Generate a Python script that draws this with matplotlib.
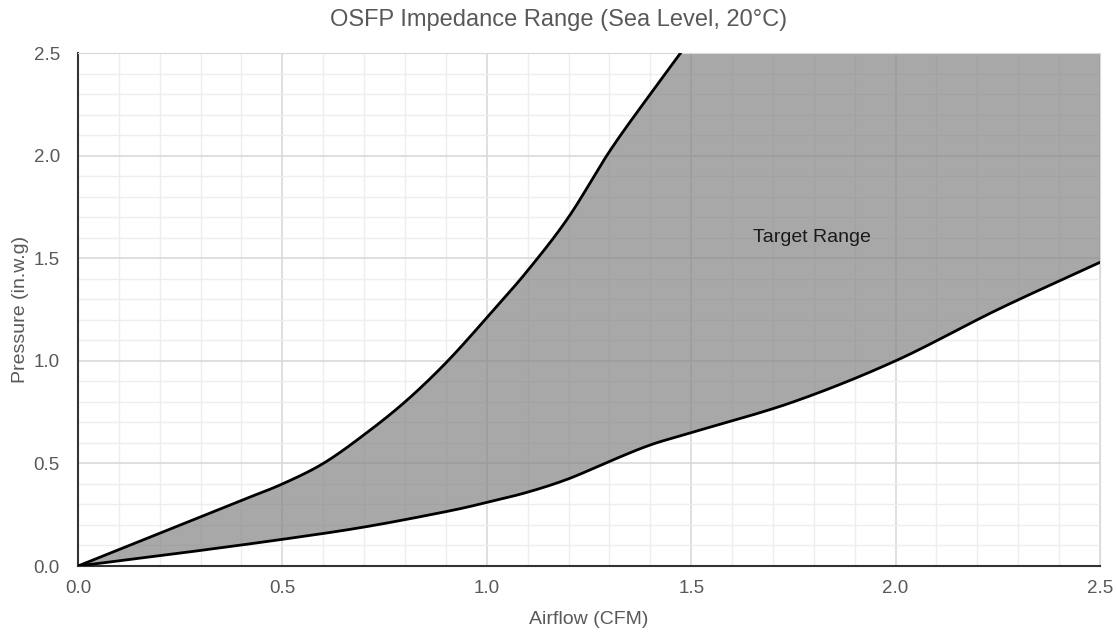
import numpy as np
import matplotlib.pyplot as plt
from matplotlib.ticker import MultipleLocator

# Curvas (CFM, in.w.g)
upper_x = [0.0, 0.1, 0.2, 0.3, 0.4, 0.5, 0.6, 0.7, 0.8, 0.9, 1.0, 1.1, 1.2, 1.3, 1.4, 1.5, 1.6]
upper_y = [0.0, 0.08, 0.16, 0.24, 0.32, 0.40, 0.50, 0.64, 0.80, 0.99, 1.21, 1.44, 1.70, 2.02, 2.30, 2.57, 2.84]

lower_x = [0.0, 0.25, 0.5, 0.7, 0.9, 1.0, 1.1, 1.2, 1.3, 1.4, 1.5, 1.75, 2.0, 2.25, 2.5]
lower_y = [0.0, 0.063, 0.13, 0.19, 0.265, 0.31, 0.36, 0.425, 0.51, 0.59, 0.65, 0.80, 1.00, 1.25, 1.48]

x_ticks = [0.0, 0.5, 1.0, 1.5, 2.0, 2.5]
y_ticks = [0.0, 0.5, 1.0, 1.5, 2.0, 2.5]


def suavizar(xs, ys, n=20):
    # Catmull-Rom para que las lineas se vean curvas
    p = np.column_stack([xs, ys]).astype(float)
    p = np.vstack([2 * p[0] - p[1], p, 2 * p[-1] - p[-2]])
    out = []
    t = np.linspace(0, 1, n, endpoint=False)[:, None]
    for i in range(1, len(p) - 2):
        p0, p1, p2, p3 = p[i - 1], p[i], p[i + 1], p[i + 2]
        seg = 0.5 * ((2 * p1) + (-p0 + p2) * t + (2 * p0 - 5 * p1 + 4 * p2 - p3) * t ** 2
                     + (-p0 + 3 * p1 - 3 * p2 + p3) * t ** 3)
        out.append(seg)
    out.append(p[-2][None, :])
    out = np.vstack(out)
    return out[:, 0], out[:, 1]


ux, uy = suavizar(upper_x, upper_y)
lx, ly = suavizar(lower_x, lower_y)

plt.rcParams['font.family'] = ['Liberation Sans', 'DejaVu Sans']
fig = plt.figure(figsize=(11.17, 6.32), dpi=100)
ax = fig.add_axes([0.0698, 0.1044, 0.9150, 0.8117])

ax.set_xlim(0, 2.5)
ax.set_ylim(0, 2.5)
ax.xaxis.set_major_locator(MultipleLocator(0.5))
ax.yaxis.set_major_locator(MultipleLocator(0.5))
ax.xaxis.set_minor_locator(MultipleLocator(0.1))
ax.yaxis.set_minor_locator(MultipleLocator(0.1))
ax.grid(which='major', color='#d9d9d9', linewidth=1.2)
ax.grid(which='minor', color='#eeeeee', linewidth=1.0)
ax.set_axisbelow(True)

# Zona objetivo: curva superior, esquina de arriba y curva inferior al reves
poly_x = np.concatenate([ux, [lx[-1]], lx[::-1]])
poly_y = np.concatenate([uy, [uy[-1]], ly[::-1]])
ax.fill(poly_x, poly_y, color='#7f7f7f', alpha=0.68, linewidth=0, zorder=2)

ax.plot(ux, uy, color='black', linewidth=2, zorder=3)
ax.plot(lx, ly, color='black', linewidth=2, zorder=3)

ax.text(1.795, 1.60, 'Target Range', fontsize=14, color='#1a1a1a', ha='center', va='center', zorder=4)

ax.set_xticks(x_ticks)
ax.set_yticks(y_ticks)
ax.set_xticklabels([f'{v:.1f}' for v in x_ticks])
ax.set_yticklabels([f'{v:.1f}' for v in y_ticks])
ax.tick_params(which='both', length=0, labelsize=13.5, labelcolor='#595959')
ax.tick_params(axis='x', pad=10)
ax.tick_params(axis='y', pad=13)

for s in ['top', 'right']:
    ax.spines[s].set_color('#d9d9d9')
for s in ['left', 'bottom']:
    ax.spines[s].set_color('#333333')
    ax.spines[s].set_linewidth(1.5)

ax.set_xlabel('Airflow (CFM)', fontsize=14, color='#595959', labelpad=10)
ax.set_ylabel('Pressure (in.w.g)', fontsize=14, color='#595959', labelpad=3)
fig.suptitle('OSFP Impedance Range (Sea Level, 20°C)', x=0.5, y=0.968, fontsize=17,
             color='#595959', va='center')

fig.savefig('out.png', dpi=100)
